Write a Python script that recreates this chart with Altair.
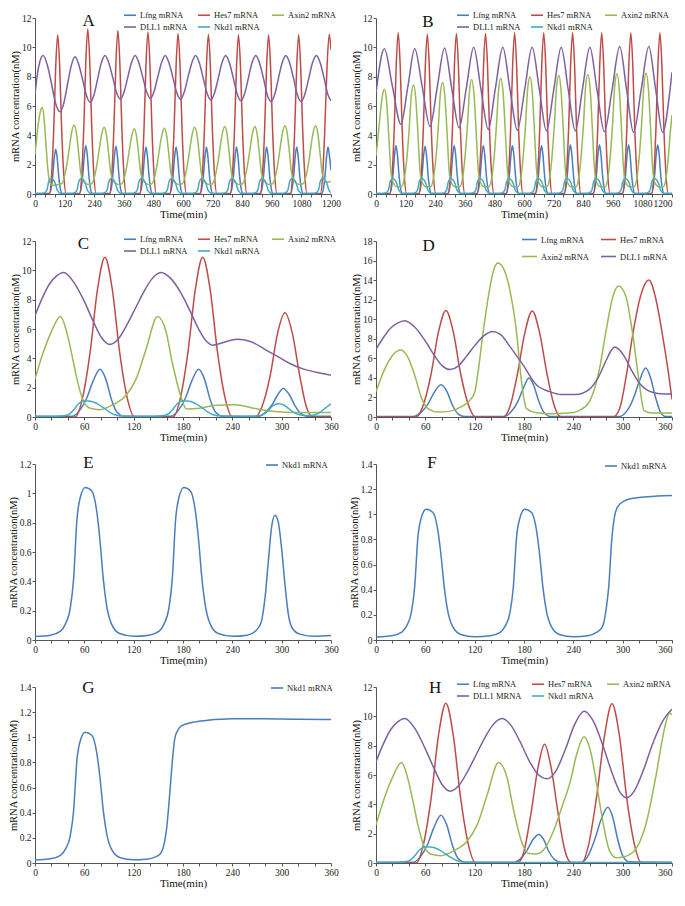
import altair as alt
import pandas as pd

FONT = "Liberation Serif"

LFNG, HES7, AXIN2, DLL1, NKD1 = "Lfng mRNA", "Hes7 mRNA", "Axin2 mRNA", "DLL1 mRNA", "Nkd1 mRNA"
C_BLUE, C_RED, C_GREEN, C_PURPLE, C_CYAN = "#4A7EBB", "#BE4B48", "#98B954", "#7D60A0", "#46AAC5"

# ---------------- Panel A (0-1200 min) ----------------
A_LFNG = [(0,0.03),(58,0.03),(66,0.43),(72,1.25),(78,2.45),(84,3.05),(90,2.45),(96,1.25),(102,0.43),(110,0.03),
          (180,0.03),(188,0.46),(194,1.35),(200,2.65),(206,3.3),(212,2.65),(218,1.35),(224,0.46),(232,0.03),
          (302,0.03),(310,0.45),(316,1.33),(322,2.6),(328,3.25),(334,2.6),(340,1.33),(346,0.45),(354,0.03),
          (424,0.03),(432,0.45),(438,1.3),(444,2.55),(450,3.2),(456,2.55),(462,1.3),(468,0.45),(476,0.03),
          (546,0.03),(554,0.45),(560,1.3),(566,2.55),(572,3.2),(578,2.55),(584,1.3),(590,0.45),(598,0.03),
          (669,0.03),(677,0.45),(683,1.3),(689,2.55),(695,3.2),(701,2.55),(707,1.3),(713,0.45),(721,0.03),
          (791,0.03),(799,0.45),(805,1.3),(811,2.55),(817,3.2),(823,2.55),(829,1.3),(835,0.45),(843,0.03),
          (913,0.03),(921,0.45),(927,1.3),(933,2.55),(939,3.2),(945,2.55),(951,1.3),(957,0.45),(965,0.03),
          (1035,0.03),(1043,0.45),(1049,1.3),(1055,2.55),(1061,3.2),(1067,2.55),(1073,1.3),(1079,0.45),(1087,0.03),
          (1162,0.03),(1170,0.45),(1176,1.3),(1182,2.55),(1188,3.2),(1194,2.55),(1200,1.6)]
A_HES7 = [(0,0),(58,0),(68,1.5),(76,4.45),(84,8.7),(92,10.85),(100,8.7),(108,4.45),(116,1.5),(126,0),
          (180,0),(190,1.5),(198,4.6),(206,9.0),(214,11.25),(222,9.0),(230,4.6),(238,1.5),(248,0),
          (302,0),(312,1.5),(320,4.55),(328,8.9),(336,11.15),(344,8.9),(352,4.55),(360,1.5),(370,0),
          (424,0),(434,1.5),(442,4.5),(450,8.85),(458,11.05),(466,8.85),(474,4.5),(482,1.5),(492,0),
          (546,0),(556,1.5),(564,4.5),(572,8.75),(580,10.95),(588,8.75),(596,4.5),(604,1.5),(614,0),
          (669,0),(679,1.5),(687,4.45),(695,8.7),(703,10.9),(711,8.7),(719,4.45),(727,1.5),(737,0),
          (791,0),(801,1.5),(809,4.45),(817,8.7),(825,10.85),(833,8.7),(841,4.45),(849,1.5),(859,0),
          (913,0),(923,1.5),(931,4.45),(939,8.7),(947,10.85),(955,8.7),(963,4.45),(971,1.5),(981,0),
          (1035,0),(1045,1.5),(1053,4.45),(1061,8.7),(1069,10.85),(1077,8.7),(1085,4.45),(1093,1.5),(1103,0),
          (1157,0),(1167,1.5),(1175,4.45),(1184,8.7),(1193,10.9),(1200,9.8)]
A_AXIN2 = [(0,2.7),(8,4.0),(16,5.1),(23,5.7),(29,5.9),(36,5.3),(44,3.5),(52,1.7),(60,0.8),(68,0.6),(80,0.6),(95,0.65),
           (108,0.7),(118,1.1),(128,1.9),(138,3.0),(148,4.15),(158,4.7),(167,4.25),(176,2.95),(185,1.5),(194,0.95),(204,0.75),(218,0.65),
           (230,0.7),(240,1.1),(250,1.9),(260,3.0),(270,4.05),(280,4.55),(289,4.1),(298,2.85),(307,1.45),(316,0.95),(326,0.75),(340,0.65),
           (352,0.7),(362,1.1),(372,1.9),(382,2.95),(392,3.95),(402,4.45),(411,4.0),(420,2.75),(429,1.4),(438,0.95),(448,0.75),(462,0.65),
           (474,0.7),(484,1.1),(494,1.9),(504,3.0),(514,4.0),(524,4.5),(533,4.05),(542,2.8),(551,1.4),(560,0.95),(570,0.75),(584,0.65),
           (597,0.7),(607,1.1),(617,1.9),(627,3.0),(637,4.05),(647,4.55),(656,4.1),(665,2.85),(674,1.45),(683,0.95),(693,0.75),(707,0.65),
           (719,0.7),(729,1.1),(739,1.9),(749,3.0),(759,4.1),(769,4.6),(778,4.15),(787,2.85),(796,1.45),(805,0.95),(815,0.75),(829,0.65),
           (841,0.7),(851,1.1),(861,1.9),(871,3.0),(881,4.1),(891,4.6),(900,4.15),(909,2.85),(918,1.45),(927,0.95),(937,0.75),(951,0.65),
           (963,0.7),(973,1.1),(983,1.9),(993,3.05),(1003,4.15),(1013,4.65),(1022,4.2),(1031,2.9),(1040,1.45),(1049,0.95),(1059,0.75),(1073,0.65),
           (1087,0.7),(1097,1.1),(1107,1.9),(1117,3.05),(1127,4.15),(1137,4.65),(1146,4.2),(1155,2.9),(1164,1.45),(1173,0.95),(1183,0.8),(1200,0.85)]
A_DLL1 = [(0,6.8),(10,8.2),(20,9.05),(33,9.45),(50,8.8),(67,7.5),(85,6.1),(102,5.6),(117,6.2),(132,7.5),(147,8.75),(162,9.35),
          (177,8.85),(193,7.8),(208,6.75),(224,6.25),(239,6.75),(254,7.85),(269,8.95),(284,9.45),(299,8.95),(315,7.95),(330,6.95),
          (346,6.45),(361,6.95),(376,7.95),(391,8.95),(406,9.45),(421,8.95),(437,7.95),(452,7.0),(468,6.5),(483,7.0),(498,8.0),
          (513,8.95),(528,9.45),(543,8.95),(559,7.95),(574,6.95),(590,6.45),(605,6.95),(620,7.95),(636,8.95),(651,9.45),(666,8.95),
          (682,7.9),(697,6.9),(713,6.4),(728,6.9),(743,7.9),(758,8.95),(773,9.45),(788,8.95),(804,7.9),(819,6.85),(835,6.35),
          (850,6.85),(865,7.9),(880,8.95),(895,9.45),(910,8.95),(926,7.9),(941,6.8),(957,6.3),(972,6.8),(987,7.9),(1002,8.95),
          (1017,9.45),(1032,8.95),(1048,7.9),(1063,6.8),(1079,6.3),(1094,6.8),(1110,7.9),(1125,8.95),(1141,9.45),(1156,8.95),
          (1172,7.9),(1187,6.8),(1200,6.35)]
A_NKD1 = [(0,0.03),(25,0.03),(41,0.11),(49,0.3),(55,0.82),(65,1.05),(75,0.95),(83,0.68),(91,0.24),(105,0.04),
          (147,0.03),(163,0.11),(171,0.3),(177,0.82),(187,1.05),(197,0.95),(205,0.68),(213,0.24),(227,0.04),
          (269,0.03),(285,0.11),(293,0.3),(299,0.82),(309,1.05),(319,0.95),(327,0.68),(335,0.24),(349,0.04),
          (391,0.03),(407,0.11),(415,0.3),(421,0.82),(431,1.05),(441,0.95),(449,0.68),(457,0.24),(471,0.04),
          (513,0.03),(529,0.11),(537,0.3),(543,0.82),(553,1.05),(563,0.95),(571,0.68),(579,0.24),(593,0.04),
          (636,0.03),(652,0.11),(660,0.3),(666,0.82),(676,1.05),(686,0.95),(694,0.68),(702,0.24),(716,0.04),
          (758,0.03),(774,0.11),(782,0.3),(788,0.82),(798,1.05),(808,0.95),(816,0.68),(824,0.24),(838,0.04),
          (880,0.03),(896,0.11),(904,0.3),(910,0.82),(920,1.05),(930,0.95),(938,0.68),(946,0.24),(960,0.04),
          (1002,0.03),(1018,0.11),(1026,0.3),(1032,0.82),(1042,1.05),(1052,0.95),(1060,0.68),(1068,0.24),(1082,0.04),
          (1126,0.03),(1142,0.11),(1150,0.3),(1156,0.82),(1166,1.05),(1176,0.95),(1184,0.68),(1192,0.24),(1200,0.1)]

# ---------------- Panel B (0-1200 min) ----------------
B_LFNG = [(0,0.03),(55,0.03),(63,0.45),(69,1.35),(75,2.65),(81,3.3),(87,2.65),(93,1.35),(99,0.45),(107,0.03),
          (173,0.03),(181,0.45),(187,1.33),(193,2.6),(199,3.25),(205,2.6),(211,1.33),(217,0.45),(225,0.03),
          (291,0.03),(299,0.45),(305,1.35),(311,2.65),(317,3.3),(323,2.65),(329,1.35),(335,0.45),(343,0.03),
          (409,0.03),(417,0.45),(423,1.35),(429,2.65),(435,3.3),(441,2.65),(447,1.35),(453,0.45),(461,0.03),
          (527,0.03),(535,0.45),(541,1.35),(547,2.65),(553,3.3),(559,2.65),(565,1.35),(571,0.45),(579,0.03),
          (645,0.03),(653,0.45),(659,1.35),(665,2.65),(671,3.3),(677,2.65),(683,1.35),(689,0.45),(697,0.03),
          (762,0.03),(770,0.46),(776,1.37),(782,2.7),(788,3.35),(794,2.7),(800,1.37),(806,0.46),(814,0.03),
          (880,0.03),(888,0.46),(894,1.37),(900,2.7),(906,3.35),(912,2.7),(918,1.37),(924,0.46),(932,0.03),
          (998,0.03),(1006,0.46),(1012,1.37),(1018,2.7),(1024,3.35),(1030,2.7),(1036,1.37),(1042,0.46),(1050,0.03),
          (1116,0.03),(1124,0.46),(1130,1.37),(1136,2.7),(1142,3.35),(1148,2.7),(1154,1.37),(1160,0.46),(1168,0.03),(1200,0.03)]
B_HES7 = [(0,0),(56,0),(66,1.5),(74,4.5),(82,8.8),(90,11.0),(98,8.8),(106,4.5),(114,1.5),(124,0),
          (174,0),(184,1.5),(192,4.5),(200,8.7),(208,10.9),(216,8.7),(224,4.5),(232,1.5),(242,0),
          (292,0),(302,1.5),(310,4.5),(318,8.8),(326,10.95),(334,8.8),(342,4.5),(350,1.5),(360,0),
          (410,0),(420,1.5),(428,4.5),(436,8.8),(444,10.95),(452,8.8),(460,4.5),(468,1.5),(478,0),
          (528,0),(538,1.5),(546,4.5),(554,8.8),(562,11.0),(570,8.8),(578,4.5),(586,1.5),(596,0),
          (646,0),(656,1.5),(664,4.5),(672,8.8),(680,11.0),(688,8.8),(696,4.5),(704,1.5),(714,0),
          (763,0),(773,1.5),(781,4.5),(789,8.8),(797,11.0),(805,8.8),(813,4.5),(821,1.5),(831,0),
          (881,0),(891,1.5),(899,4.5),(907,8.8),(915,11.0),(923,8.8),(931,4.5),(939,1.5),(949,0),
          (999,0),(1009,1.5),(1017,4.5),(1025,8.8),(1033,11.0),(1041,8.8),(1049,4.5),(1057,1.5),(1067,0),
          (1117,0),(1127,1.5),(1135,4.5),(1143,8.8),(1151,11.0),(1159,8.8),(1167,4.5),(1175,1.5),(1185,0),(1200,0)]
B_AXIN2 = [(0,2.6),(10,4.2),(20,5.9),(27,6.8),(34,7.15),(43,6.3),(52,3.9),(61,1.4),(70,0.75),(84,0.5),
           (104,0.5),(114,1.0),(124,2.25),(134,4.3),(143,6.7),(152,7.45),(161,6.55),(170,4.1),(179,1.5),(188,0.75),(202,0.5),
           (222,0.5),(232,1.0),(242,2.3),(252,4.4),(261,6.85),(270,7.6),(279,6.7),(288,4.2),(297,1.5),(306,0.75),(320,0.5),
           (340,0.5),(350,1.0),(360,2.35),(370,4.5),(379,7.0),(388,7.8),(397,6.85),(406,4.3),(415,1.55),(424,0.75),(438,0.5),
           (458,0.5),(468,1.0),(478,2.35),(488,4.6),(497,7.1),(506,7.9),(515,6.95),(524,4.35),(533,1.6),(542,0.75),(556,0.5),
           (576,0.5),(586,1.0),(596,2.4),(606,4.65),(615,7.2),(624,8.0),(633,7.05),(642,4.4),(651,1.6),(660,0.75),(674,0.5),
           (693,0.5),(703,1.0),(713,2.45),(723,4.7),(732,7.3),(741,8.1),(750,7.1),(759,4.45),(768,1.6),(777,0.75),(791,0.5),
           (811,0.5),(821,1.0),(831,2.45),(841,4.7),(850,7.35),(859,8.15),(868,7.2),(877,4.5),(886,1.65),(895,0.75),(909,0.5),
           (929,0.5),(939,1.0),(949,2.45),(959,4.75),(968,7.4),(977,8.2),(986,7.2),(995,4.5),(1004,1.65),(1013,0.75),(1027,0.5),
           (1047,0.5),(1057,1.0),(1067,2.5),(1077,4.8),(1086,7.4),(1095,8.25),(1104,7.25),(1113,4.55),(1122,1.65),(1131,0.75),(1145,0.5),
           (1165,0.5),(1175,1.0),(1185,2.5),(1193,4.2),(1200,5.4)]
B_DLL1 = [(0,6.9),(34,9.9),(67,7.3),(101,4.75),(129,7.3),(157,9.9),(188,7.25),(219,4.6),(248,7.25),(278,9.95),
          (307,7.2),(337,4.5),(366,7.2),(396,10.0),(425,7.2),(455,4.4),(484,7.2),(514,10.0),(543,7.15),(573,4.35),
          (603,7.15),(633,10.0),(662,7.15),(691,4.3),(721,7.15),(751,10.0),(779,7.15),(808,4.3),(837,7.15),(867,10.0),
          (896,7.1),(926,4.25),(957,7.1),(988,10.05),(1016,7.1),(1044,4.2),(1075,7.1),(1106,10.05),(1134,7.1),(1162,4.2),
          (1192,7.1),(1200,8.3)]
B_NKD1 = [(0,0.03),(27,0.03),(43,0.11),(51,0.3),(57,0.82),(67,1.05),(77,0.95),(85,0.68),(93,0.24),(107,0.04),
          (145,0.03),(161,0.11),(169,0.3),(175,0.82),(185,1.05),(195,0.95),(203,0.68),(211,0.24),(225,0.04),
          (263,0.03),(279,0.11),(287,0.3),(293,0.82),(303,1.05),(313,0.95),(321,0.68),(329,0.24),(343,0.04),
          (381,0.03),(397,0.11),(405,0.3),(411,0.82),(421,1.05),(431,0.95),(439,0.68),(447,0.24),(461,0.04),
          (499,0.03),(515,0.11),(523,0.3),(529,0.82),(539,1.05),(549,0.95),(557,0.68),(565,0.24),(579,0.04),
          (617,0.03),(633,0.11),(641,0.3),(647,0.82),(657,1.05),(667,0.95),(675,0.68),(683,0.24),(697,0.04),
          (734,0.03),(750,0.11),(758,0.3),(764,0.82),(774,1.05),(784,0.95),(792,0.68),(800,0.24),(814,0.04),
          (852,0.03),(868,0.11),(876,0.3),(882,0.82),(892,1.05),(902,0.95),(910,0.68),(918,0.24),(932,0.04),
          (970,0.03),(986,0.11),(994,0.3),(1000,0.82),(1010,1.05),(1020,0.95),(1028,0.68),(1036,0.24),(1050,0.04),
          (1088,0.03),(1104,0.11),(1112,0.3),(1118,0.82),(1128,1.05),(1138,0.95),(1146,0.68),(1154,0.24),(1168,0.04),(1200,0.03)]

# ---------------- Panel C (0-360 min) ----------------
C_LFNG = [(0,0.05),(45,0.05),(55,0.5),(63,1.3),(71,2.5),(79,3.25),(86,2.6),(93,1.2),(100,0.3),(108,0.05),
          (165,0.05),(175,0.5),(183,1.3),(191,2.5),(199,3.25),(206,2.6),(213,1.2),(220,0.3),(228,0.05),
          (272,0.05),(281,0.35),(288,0.8),(295,1.5),(302,1.95),(309,1.55),(316,0.8),(323,0.25),(331,0.05),(360,0.05)]
C_HES7 = [(0,0),(49,0),(57,1.1),(67,4.4),(76,8.7),(85,10.9),(94,8.7),(103,4.4),(113,1.1),(121,0),
          (168,0),(176,1.1),(186,4.4),(195,8.7),(204,10.9),(213,8.7),(222,4.4),(232,1.1),(240,0),
          (268,0),(276,0.7),(286,2.8),(295,5.7),(304,7.1),(313,5.7),(322,2.8),(330,0.7),(338,0),(360,0)]
C_AXIN2 = [(0,2.6),(10,4.4),(19,5.7),(31,6.85),(39,5.7),(45,4.2),(51,2.6),(59,1.06),(67,0.6),(79,0.5),(95,0.85),
           (111,1.5),(123,2.6),(135,4.6),(149,6.85),(159,5.9),(167,3.7),(178,1.3),(184,0.55),(200,0.6),(220,0.8),
           (244,0.84),(264,0.62),(288,0.4),(320,0.3),(360,0.3)]
C_DLL1 = [(0,6.9),(8,8.0),(18,9.1),(26,9.6),(35,9.85),(47,9.2),(59,8.0),(71,6.5),(81,5.4),(91,4.95),(101,5.3),
          (111,6.2),(122,7.4),(132,8.5),(142,9.4),(153,9.85),(165,9.45),(176,8.6),(188,7.3),(199,6.0),(208,5.2),
          (216,4.9),(230,5.1),(246,5.3),(262,5.15),(280,4.6),(296,4.1),(310,3.65),(325,3.3),(342,3.05),(360,2.85)]
C_NKD1 = [(0,0.03),(25,0.04),(37,0.1),(43,0.25),(48,0.55),(53,0.9),(60,1.1),(68,1.08),(76,0.9),(84,0.6),(90,0.35),
          (97,0.15),(106,0.06),(125,0.03),(145,0.04),(157,0.1),(163,0.25),(168,0.55),(173,0.9),(180,1.1),(188,1.08),
          (196,0.9),(204,0.6),(210,0.35),(217,0.15),(226,0.06),(250,0.03),(268,0.05),(277,0.15),(283,0.4),(289,0.75),
          (296,0.9),(303,0.8),(309,0.55),(315,0.3),(322,0.15),(330,0.1),(338,0.12),(346,0.3),(353,0.6),(360,0.9)]

# ---------------- Panel D (0-360 min) ----------------
D_LFNG = [(0,0.05),(45,0.05),(55,0.5),(63,1.3),(71,2.55),(79,3.3),(86,2.65),(93,1.2),(100,0.3),(108,0.05),
          (155,0.05),(164,0.5),(172,1.5),(179,2.9),(186,4.0),(192,3.2),(198,1.6),(204,0.5),(212,0.05),
          (296,0.05),(305,0.6),(313,1.9),(320,3.6),(328,5.0),(334,4.0),(340,2.0),(346,0.5),(352,0.05),(360,0.05)]
D_HES7 = [(0,0),(49,0),(57,1.1),(67,4.4),(76,8.7),(85,10.9),(94,8.7),(103,4.4),(113,1.1),(121,0),
          (155,0),(163,1.1),(172,4.4),(181,8.6),(190,10.85),(199,8.6),(208,4.4),(217,1.1),(225,0),
          (288,0),(296,0.8),(304,4.0),(312,8.3),(320,11.8),(326,13.4),(332,14.0),(340,12.2),(348,8.6),(356,4.3),(360,1.8)]
D_AXIN2 = [(0,2.6),(10,4.8),(20,6.3),(30,6.85),(40,5.9),(48,4.0),(56,1.8),(64,0.8),(75,0.5),(90,0.6),(105,1.1),
           (115,1.8),(120,2.5),(124,4.5),(130,8.5),(137,12.5),(143,15.0),(148,15.75),(155,15.2),(163,12.9),(171,8.6),
           (177,3.6),(183,0.85),(195,0.43),(211,0.33),(235,0.4),(247,0.66),(259,1.5),(272,5.0),(280,8.9),(288,12.3),
           (295,13.4),(304,12.3),(312,8.6),(320,3.6),(326,0.66),(336,0.4),(360,0.4)]
D_DLL1 = [(0,6.9),(8,8.0),(18,9.1),(26,9.6),(35,9.85),(47,9.2),(59,7.9),(71,6.3),(81,5.2),(90,4.85),(100,5.2),
          (110,6.2),(120,7.3),(131,8.3),(142,8.75),(152,8.4),(163,7.2),(179,5.3),(195,3.3),(211,2.6),(225,2.3),
          (243,2.3),(259,2.8),(270,4.0),(280,5.8),(286,6.8),(290,7.15),(295,6.95),(302,6.2),(310,4.9),(320,3.5),
          (335,2.55),(350,2.35),(360,2.35)]

# ---------------- Panels E, F, G (Nkd1 only) ----------------
E_NKD1 = [(0,0.024),(19,0.033),(31,0.06),(37,0.11),(43,0.22),(47,0.42),(51,0.82),(55,0.97),(61,1.04),(69,1.016),
          (75,0.88),(79,0.68),(83,0.42),(87,0.24),(93,0.11),(103,0.044),(120,0.025),(139,0.033),(151,0.06),(157,0.11),
          (163,0.22),(167,0.42),(171,0.82),(175,0.97),(181,1.04),(189,1.016),(195,0.88),(199,0.68),(203,0.42),
          (207,0.24),(213,0.11),(223,0.044),(240,0.025),(258,0.033),(268,0.06),(275,0.12),(280,0.3),(284,0.55),
          (288,0.78),(292,0.85),(296,0.8),(300,0.62),(304,0.38),(308,0.18),(313,0.08),(322,0.04),(340,0.025),(360,0.03)]
F_NKD1 = [(0,0.024),(19,0.033),(31,0.06),(37,0.11),(43,0.22),(47,0.42),(51,0.82),(55,0.97),(61,1.04),(69,1.016),
          (75,0.88),(79,0.68),(83,0.42),(87,0.24),(93,0.11),(103,0.044),(120,0.025),(139,0.033),(151,0.06),(157,0.11),
          (163,0.22),(167,0.42),(171,0.82),(175,0.97),(181,1.04),(189,1.016),(195,0.88),(199,0.68),(203,0.42),
          (207,0.24),(213,0.11),(223,0.044),(240,0.025),(258,0.033),(268,0.06),(275,0.1),(280,0.25),(283,0.42),
          (287,0.82),(290,0.98),(294,1.06),(303,1.11),(315,1.13),(330,1.14),(360,1.15)]
G_NKD1 = [(0,0.024),(19,0.033),(31,0.06),(37,0.11),(43,0.22),(47,0.42),(51,0.82),(55,0.97),(61,1.04),(69,1.016),
          (75,0.88),(79,0.68),(83,0.42),(87,0.24),(93,0.11),(103,0.044),(120,0.025),(135,0.03),(145,0.045),(152,0.07),
          (157,0.15),(160,0.27),(163,0.48),(166,0.73),(170,0.99),(174,1.06),(178,1.09),(192,1.12),(210,1.135),
          (240,1.147),(280,1.147),(320,1.143),(360,1.142)]

# ---------------- Panel H (0-360 min) ----------------
H_LFNG = [(0,0.05),(45,0.05),(55,0.5),(63,1.3),(71,2.5),(79,3.25),(86,2.6),(93,1.2),(100,0.3),(108,0.05),
          (168,0.05),(176,0.3),(184,0.9),(191,1.6),(198,1.95),(204,1.6),(210,0.8),(217,0.25),(225,0.05),
          (250,0.05),(258,0.5),(266,1.6),(274,3.0),(282,3.8),(288,3.1),(294,1.6),(300,0.5),(308,0.08),(360,0.05)]
H_HES7 = [(0,0),(49,0),(57,1.1),(67,4.4),(76,8.7),(85,10.9),(94,8.7),(103,4.4),(113,1.1),(121,0),
          (172,0),(180,0.8),(188,3.2),(197,6.5),(205,8.1),(213,6.5),(222,3.2),(230,0.8),(238,0),
          (250,0),(258,1.1),(268,4.4),(278,8.7),(287,10.85),(296,8.7),(305,4.4),(315,1.1),(323,0),(360,0)]
H_AXIN2 = [(0,2.6),(10,4.4),(19,5.7),(31,6.85),(39,5.7),(45,4.2),(51,2.6),(59,1.06),(67,0.6),(79,0.5),(95,0.85),
           (111,1.5),(123,2.6),(135,4.6),(149,6.85),(159,5.9),(167,3.7),(178,1.3),(186,0.65),(195,0.62),(204,0.9),
           (216,2.2),(226,3.8),(236,5.5),(245,7.6),(253,8.6),(261,7.6),(268,5.5),(276,2.8),(284,0.84),(292,0.36),
           (302,0.42),(317,1.05),(329,2.8),(341,6.1),(351,9.2),(357,10.25),(360,10.1)]
H_DLL1 = [(0,6.9),(8,8.0),(18,9.1),(26,9.6),(35,9.85),(47,9.2),(59,7.9),(71,6.4),(81,5.3),(90,4.9),(101,5.3),
          (111,6.2),(122,7.4),(132,8.5),(142,9.4),(153,9.85),(164,9.4),(175,8.3),(186,7.0),(197,6.05),(208,5.75),
          (218,6.2),(230,7.7),(242,9.5),(253,10.35),(264,9.7),(276,8.0),(288,6.0),(297,4.8),(305,4.45),(314,4.9),
          (325,6.3),(337,8.2),(349,9.7),(360,10.5)]
H_NKD1 = [(0,0.03),(25,0.04),(37,0.1),(43,0.25),(48,0.55),(53,0.9),(61,1.1),(69,1.08),(77,0.9),(85,0.6),(92,0.35),
          (99,0.15),(107,0.06),(125,0.03),(360,0.03)]

Y12 = [0, 2, 4, 6, 8, 10, 12]
Y18 = [0, 2, 4, 6, 8, 10, 12, 14, 16, 18]
Y12S = [0, 0.2, 0.4, 0.6, 0.8, 1, 1.2]
Y14S = [0, 0.2, 0.4, 0.6, 0.8, 1, 1.2, 1.4]

PW, PH = 296, 176


def panel(letter, letter_pos, series, xmax, xlab, xtick, yvals, legend_kw, right_col=False):
    rows = []
    for name, _, pts in series:
        for t, v in pts:
            rows.append({"t": t, "v": v, "s": name})
    df = pd.DataFrame(rows)
    names = [s[0] for s in series]
    colors = [s[1] for s in series]
    xvals = list(range(0, xmax + 1, xtick))
    if right_col:
        lalign = {"condition": {"test": f"datum.value >= {xmax}", "value": "right"}, "value": "center"}
    else:
        lalign = "center"
    xenc = alt.X("t:Q",
                 scale=alt.Scale(domain=[0, xmax], nice=False, zero=True),
                 axis=alt.Axis(title="Time(min)", values=xvals, tickCount=len(xvals),
                               labelExpr=f"datum.value % {xlab} === 0 ? datum.label : ''",
                               labelFlush=False, labelOverlap=False, format="d", labelAlign=lalign,
                               tickSize=3, labelFontSize=9.5, titleFontSize=11,
                               labelPadding=1, titlePadding=1))
    yenc = alt.Y("v:Q",
                 scale=alt.Scale(domain=[0, yvals[-1]], nice=False),
                 axis=alt.Axis(title="mRNA concentration(nM)", values=yvals, tickCount=len(yvals),
                               format="~g", labelOverlap=False,
                               tickSize=3, labelFontSize=9.5, titleFontSize=10.5,
                               labelPadding=1, titlePadding=1))
    leg = dict(orient="none", title=None, symbolType="stroke", symbolSize=144,
               symbolStrokeWidth=1.6, labelFont=FONT, labelFontSize=8.5, labelColor="#222",
               labelOffset=3, columnPadding=6, rowPadding=0, gridAlign="all",
               direction="horizontal", padding=0)
    leg.update(legend_kw)
    lines = alt.Chart(df).mark_line(strokeWidth=1.5, interpolate="monotone", clip=True).encode(
        x=xenc, y=yenc,
        color=alt.Color("s:N", scale=alt.Scale(domain=names, range=colors),
                        legend=alt.Legend(**leg)),
    )
    ldf = pd.DataFrame({"t": [letter_pos[0]], "v": [letter_pos[1]], "lab": [letter]})
    lab = alt.Chart(ldf).mark_text(font=FONT, fontSize=17, color="#111").encode(
        x="t:Q", y="v:Q", text="lab:N")
    return alt.layer(lines, lab).properties(width=PW, height=PH)


def all5(a, b, c, d, e, dll="DLL1 mRNA"):
    return [(LFNG, C_BLUE, a), (HES7, C_RED, b), (AXIN2, C_GREEN, c), (dll, C_PURPLE, d), (NKD1, C_CYAN, e)]


pA = panel("A", (217, 11.8), all5(A_LFNG, A_HES7, A_AXIN2, A_DLL1, A_NKD1), 1200, 120, 40, Y12,
           dict(legendX=88, legendY=-10, columns=3))
pB = panel("B", (211, 11.75), all5(B_LFNG, B_HES7, B_AXIN2, B_DLL1, B_NKD1), 1200, 120, 40, Y12,
           dict(legendX=80, legendY=-10, columns=3), right_col=True)
pC = panel("C", (59, 11.8), all5(C_LFNG, C_HES7, C_AXIN2, C_DLL1, C_NKD1), 360, 60, 20, Y12,
           dict(legendX=88, legendY=-9, columns=3))
pD = panel("D", (64, 17.5), [(LFNG, C_BLUE, D_LFNG), (HES7, C_RED, D_HES7),
                             (AXIN2, C_GREEN, D_AXIN2), (DLL1, C_PURPLE, D_DLL1)], 360, 60, 20, Y18,
           dict(legendX=145, legendY=-10, columns=2, rowPadding=4, symbolSize=225, columnPadding=8),
           right_col=True)
pE = panel("E", (65, 1.21), [(NKD1, C_BLUE, E_NKD1)], 360, 60, 20, Y12S,
           dict(legendX=230, legendY=-6, columns=1))
pF = panel("F", (68, 1.405), [(NKD1, C_BLUE, F_NKD1)], 360, 60, 20, Y14S,
           dict(legendX=228, legendY=-5, columns=1), right_col=True)
pG = panel("G", (65, 1.39), [(NKD1, C_BLUE, G_NKD1)], 360, 60, 20, Y14S,
           dict(legendX=235, legendY=-6, columns=1))
pH = panel("H", (72, 11.9), all5(H_LFNG, H_HES7, H_AXIN2, H_DLL1, H_NKD1, dll="DLL1 MRNA"), 360, 60, 20, Y12,
           dict(legendX=80, legendY=-10, columns=3), right_col=True)

chart = alt.concat(pA, pB, pC, pD, pE, pF, pG, pH, columns=2,
                   spacing={"row": 47, "column": 45}, bounds="flush").resolve_scale(
    x="independent", y="independent", color="independent").resolve_legend(
    color="independent").properties(
    padding=0, autosize=alt.AutoSizeParams(type="pad")
).configure(padding=0).configure_axis(
    grid=False, labelFont=FONT, titleFont=FONT, titleFontWeight="normal",
    domainColor="#555", tickColor="#555", labelColor="#222", titleColor="#111"
).configure_view(stroke=None)

chart.save("out.html", embed_options={"renderer": "svg", "actions": False})
